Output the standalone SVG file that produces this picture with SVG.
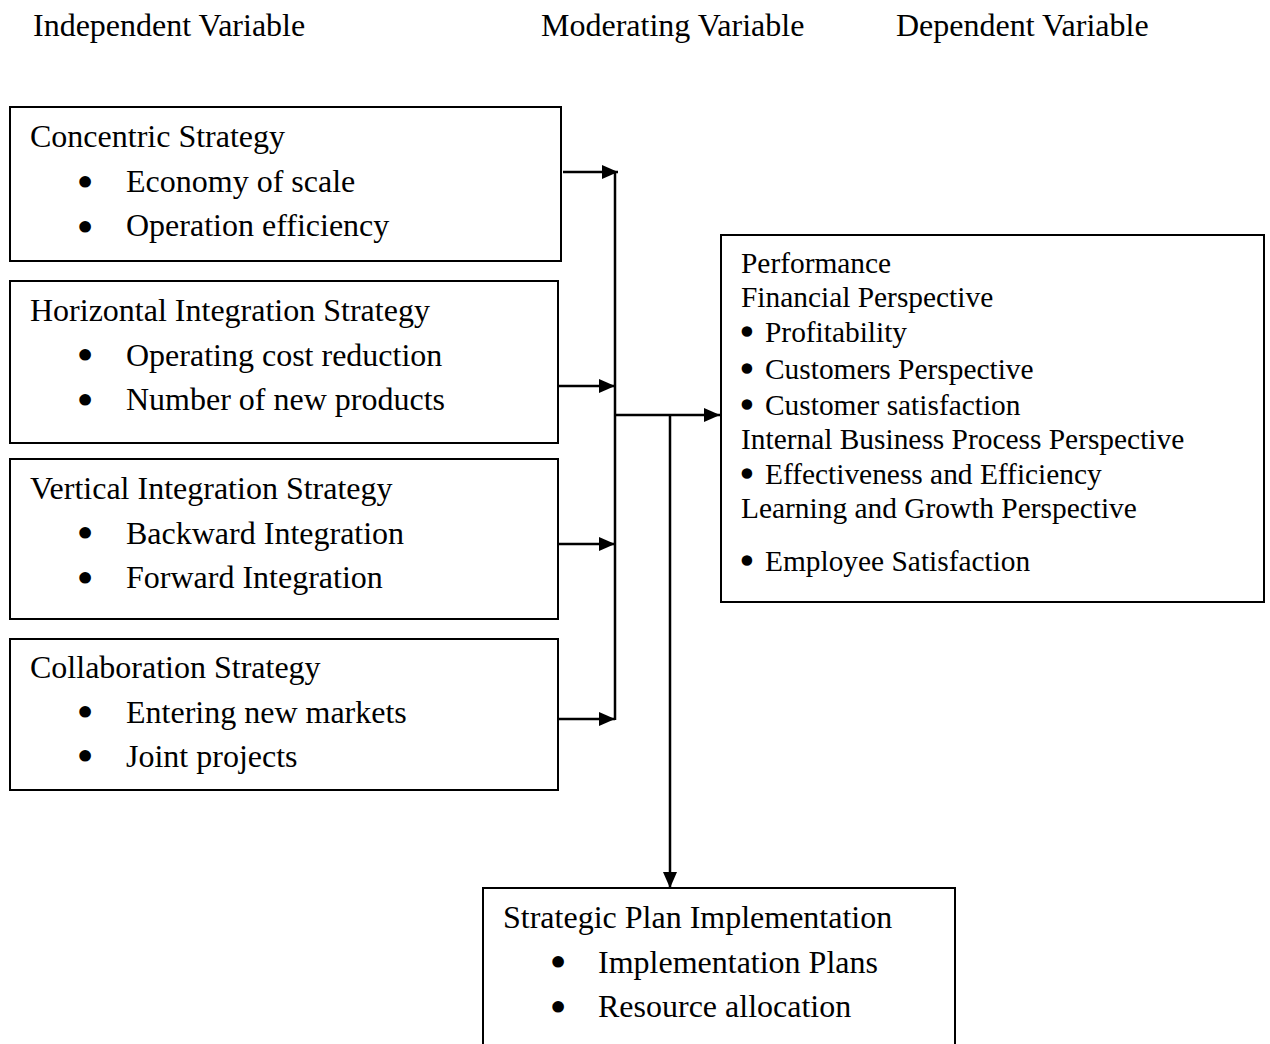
<svg xmlns="http://www.w3.org/2000/svg" width="1270" height="1044" viewBox="0 0 1270 1044">
<style>
text{font-family:"Liberation Serif","Times New Roman",serif;fill:#000}
.t{font-size:32px}
.p{font-size:29.4px}
.b{font-size:32px;text-anchor:middle;stroke:#000;stroke-width:4;stroke-linejoin:round}
.bp{font-size:29.4px;text-anchor:middle;stroke:#000;stroke-width:3.5;stroke-linejoin:round}
.box{fill:#fff;stroke:#000;stroke-width:2}
.ln{fill:none;stroke:#000;stroke-width:2.5}
</style>
<defs>
<marker id="ah" markerUnits="userSpaceOnUse" markerWidth="16" markerHeight="16" viewBox="0 0 16 16" refX="16" refY="8" orient="auto">
<path d="M0,1 L16,8 L0,15 Z" fill="#000"/>
</marker>
</defs>
<rect width="1270" height="1044" fill="#fff"/>
<g id="headers" class="t">
<text x="33" y="36">Independent Variable</text>
<text x="541" y="36">Moderating Variable</text>
<text x="896" y="36">Dependent Variable</text>
</g>
<g id="concentric">
<rect class="box" x="10" y="107" width="551" height="154"/>
<text class="t" x="30" y="147">Concentric Strategy</text>
<text class="b" x="85" y="193">•</text><text class="t" x="126" y="192">Economy of scale</text>
<text class="b" x="85" y="238">•</text><text class="t" x="126" y="236">Operation efficiency</text>
</g>
<g id="horizontal">
<rect class="box" x="10" y="281" width="548" height="162"/>
<text class="t" x="30" y="321">Horizontal Integration Strategy</text>
<text class="b" x="85" y="366">•</text><text class="t" x="126" y="366">Operating cost reduction</text>
<text class="b" x="85" y="411">•</text><text class="t" x="126" y="410">Number of new products</text>
</g>
<g id="vertical">
<rect class="box" x="10" y="459" width="548" height="160"/>
<text class="t" x="30" y="499">Vertical Integration Strategy</text>
<text class="b" x="85" y="544">•</text><text class="t" x="126" y="544">Backward Integration</text>
<text class="b" x="85" y="589">•</text><text class="t" x="126" y="588">Forward Integration</text>
</g>
<g id="collaboration">
<rect class="box" x="10" y="639" width="548" height="151"/>
<text class="t" x="30" y="678">Collaboration Strategy</text>
<text class="b" x="85" y="723">•</text><text class="t" x="126" y="723">Entering new markets</text>
<text class="b" x="85" y="767">•</text><text class="t" x="126" y="767">Joint projects</text>
</g>
<g id="performance">
<rect class="box" x="721" y="235" width="543" height="367"/>
<text class="p" x="741" y="273">Performance</text>
<text class="p" x="741" y="307">Financial Perspective</text>
<text class="bp" x="747" y="342">•</text><text class="p" x="765" y="342">Profitability</text>
<text class="bp" x="747" y="379">•</text><text class="p" x="765" y="379">Customers Perspective</text>
<text class="bp" x="747" y="415">•</text><text class="p" x="765" y="415">Customer satisfaction</text>
<text class="p" x="741" y="449">Internal Business Process Perspective</text>
<text class="bp" x="747" y="484">•</text><text class="p" x="765" y="484">Effectiveness and Efficiency</text>
<text class="p" x="741" y="518">Learning and Growth Perspective</text>
<text class="bp" x="747" y="571">•</text><text class="p" x="765" y="571">Employee Satisfaction</text>
</g>
<g id="implementation">
<rect class="box" x="483" y="888" width="472" height="170"/>
<text class="t" x="503" y="928">Strategic Plan Implementation</text>
<text class="b" x="558" y="973">•</text><text class="t" x="598" y="973">Implementation Plans</text>
<text class="b" x="558" y="1018">•</text><text class="t" x="598" y="1017">Resource allocation</text>
</g>
<g id="connectors">
<line class="ln" x1="615" y1="171" x2="615" y2="720"/>
<line class="ln" x1="563" y1="172" x2="618" y2="172" marker-end="url(#ah)"/>
<line class="ln" x1="558" y1="386" x2="615" y2="386" marker-end="url(#ah)"/>
<line class="ln" x1="558" y1="544" x2="615" y2="544" marker-end="url(#ah)"/>
<line class="ln" x1="558" y1="719" x2="615" y2="719" marker-end="url(#ah)"/>
<line class="ln" x1="615" y1="415" x2="720" y2="415" marker-end="url(#ah)"/>
<line class="ln" x1="670" y1="415" x2="670" y2="888" marker-end="url(#ah)"/>
</g>
</svg>
